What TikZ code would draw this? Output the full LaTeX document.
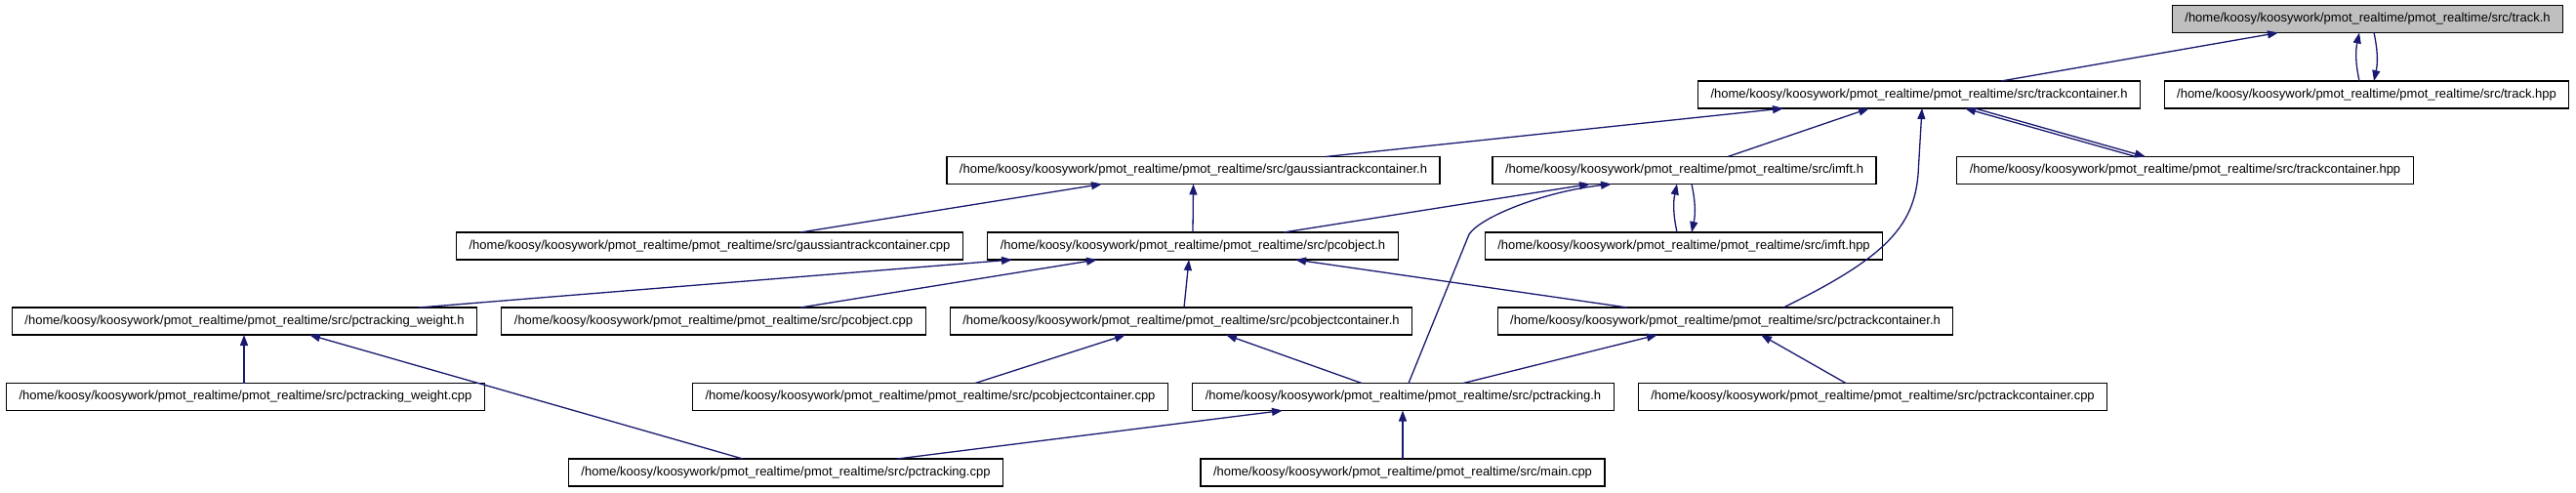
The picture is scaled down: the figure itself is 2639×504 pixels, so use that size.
\documentclass[tikz,border=0pt]{standalone}
\usepackage{fontspec}
\setmainfont{Liberation Sans}
\usetikzlibrary{arrows.meta}
\definecolor{edgeblue}{HTML}{191970}
\definecolor{curgray}{HTML}{BFBFBF}
\newcommand\dxpath{/home/koosy/koosywork/pmot\_realtime/pmot\_realtime/src/}
\begin{document}
\begin{tikzpicture}[x=1pt,y=-1pt,
  filebox/.style={draw=black, line width=1.2pt, fill=white, minimum height=28pt,
    inner xsep=13pt, inner ysep=0pt, outer sep=0pt, font=\fontsize{13}{15}\selectfont},
  curbox/.style={filebox, fill=curgray},
  dep/.style={draw=edgeblue, line width=1.3pt, -{Triangle[length=11pt,width=8pt]}}]
\path[use as bounding box, fill=white] (0,0) rectangle (2639,504);
% row 1
\node[curbox] (trackh) at (2425.5,19.5) {\dxpath track.h};
% row 2
\node[filebox] (tch) at (1966,97) {\dxpath trackcontainer.h};
\node[filebox] (thpp) at (2424.5,97) {\dxpath track.hpp};
% row 3
\node[filebox] (gtch) at (1222.5,174.5) {\dxpath gaussiantrackcontainer.h};
\node[filebox] (imfth) at (1725.5,174.5) {\dxpath imft.h};
\node[filebox] (tchpp) at (2238.5,174.5) {\dxpath trackcontainer.hpp};
% row 4
\node[filebox] (gtccpp) at (727,252) {\dxpath gaussiantrackcontainer.cpp};
\node[filebox] (pcoh) at (1222,252) {\dxpath pcobject.h};
\node[filebox] (imfthpp) at (1725,252) {\dxpath imft.hpp};
% row 5
\node[filebox] (pcwh) at (250.5,329) {\dxpath pctracking\_weight.h};
\node[filebox] (pcocpp) at (731,329) {\dxpath pcobject.cpp};
\node[filebox] (pcoch) at (1210,329) {\dxpath pcobjectcontainer.h};
\node[filebox] (pctch) at (1767.5,329) {\dxpath pctrackcontainer.h};
% row 6
\node[filebox] (pcwcpp) at (251.5,406.5) {\dxpath pctracking\_weight.cpp};
\node[filebox] (pcoccpp) at (953,406.5) {\dxpath pcobjectcontainer.cpp};
\node[filebox] (pcth) at (1437.5,406.5) {\dxpath pctracking.h};
\node[filebox] (pctccpp) at (1918.5,406.5) {\dxpath pctrackcontainer.cpp};
% row 7
\node[filebox] (pctcpp) at (805,484) {\dxpath pctracking.cpp};
\node[filebox] (maincpp) at (1437,484) {\dxpath main.cpp};
% edges
\draw[dep] ([xshift=84pt]tch.north) -- ([xshift=-91.5pt]trackh.south);
\draw[dep] ([xshift=-7.5pt]thpp.north) to[bend left=12] ([xshift=-8.5pt]trackh.south);
\draw[dep] ([xshift=6.5pt]trackh.south) to[bend left=12] ([xshift=7.5pt]thpp.north);
\draw[dep] ([xshift=135.5pt]gtch.north) -- ([xshift=-139pt]tch.south);
\draw[dep] ([xshift=44.5pt]imfth.north) -- ([xshift=-51pt]tch.south);
\draw[dep] ([xshift=59.5pt]pctch.north) .. controls +(108,-53) and +(-2,60) .. ([xshift=-0.5pt]tch.south |- 0,170) -- ([xshift=3pt]tch.south);
\draw[dep] ([xshift=-50.5pt]tchpp.north) -- ([xshift=47pt]tch.south);
\draw[dep] ([xshift=57pt]tch.south) -- ([xshift=-40.5pt]tchpp.north);
\draw[dep] (pcoh.north) -- (gtch.south);
\draw[dep] ([xshift=93pt]gtccpp.north) -- ([xshift=-93.5pt]gtch.south);
\draw[dep] ([xshift=93pt]pcoh.north) -- ([xshift=-96.5pt]imfth.south);
\draw[dep] ([xshift=5.5pt]pcth.north) -- ([xshift=67.5pt]pcth.north |- 0,240) .. controls +(12,-18) and +(-70,8) .. ([xshift=-74.5pt]imfth.south);
\draw[dep] ([xshift=-7pt]imfthpp.north) to[bend left=12] ([xshift=-7.5pt]imfth.south);
\draw[dep] ([xshift=7.5pt]imfth.south) to[bend left=12] ([xshift=8pt]imfthpp.north);
\draw[dep] ([xshift=178.5pt]pcwh.north) -- ([xshift=-185pt]pcoh.south);
\draw[dep] ([xshift=89pt]pcocpp.north) -- ([xshift=-98pt]pcoh.south);
\draw[dep] ([xshift=3pt]pcoch.north) -- ([xshift=-4pt]pcoh.south);
\draw[dep] ([xshift=-100.5pt]pctch.north) -- ([xshift=105pt]pcoh.south);
\draw[dep] ([xshift=-1.5pt]pcwcpp.north) -- ([xshift=-0.5pt]pcwh.south);
\draw[dep] ([xshift=-44pt]pctcpp.north) -- ([xshift=66.5pt]pcwh.south);
\draw[dep] ([xshift=46pt]pcoccpp.north) -- ([xshift=-57pt]pcoch.south);
\draw[dep] ([xshift=-42.5pt]pcth.north) -- ([xshift=46pt]pcoch.south);
\draw[dep] ([xshift=61.5pt]pcth.north) -- ([xshift=-69.5pt]pctch.south);
\draw[dep] ([xshift=-27.5pt]pctccpp.north) -- ([xshift=36.5pt]pctch.south);
\draw[dep] ([xshift=114pt]pctcpp.north) -- ([xshift=-123.5pt]pcth.south);
\draw[dep] (maincpp.north) -- ([xshift=-0.5pt]pcth.south);
\end{tikzpicture}
\end{document}
